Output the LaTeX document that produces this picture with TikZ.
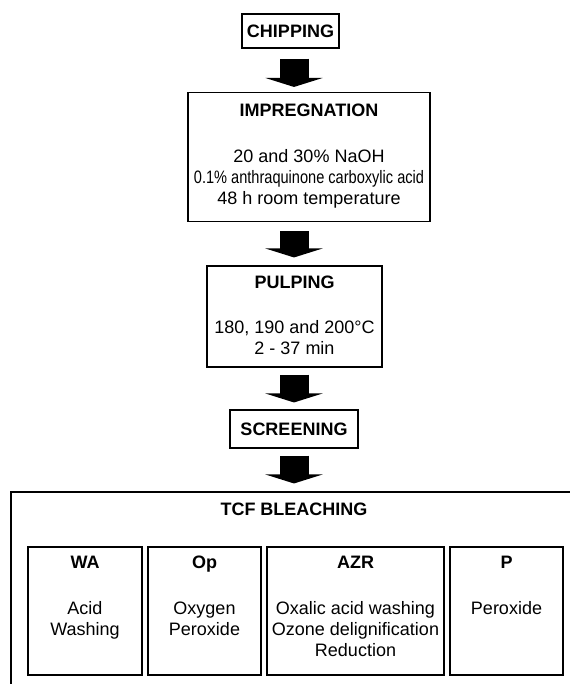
\documentclass[tikz,border=0pt]{standalone}
\usepackage{fontspec}
\setmainfont{Liberation Sans}
\usepackage{graphicx}
\usetikzlibrary{arrows.meta,calc}

\newcommand{\stagefont}{\fontsize{13.5}{15.75}\selectfont}

\tikzset{
  stagebox/.style={draw, line width=0.8pt, inner sep=0pt},
  headtext/.style={font=\stagefont\bfseries, anchor=base, inner sep=0pt},
  bodytext/.style={font=\stagefont, align=center, anchor=north, inner sep=0pt},
  fatarrow/.style={line width=21.75pt, -{Triangle[width=42.75pt,length=6.75pt]}},
}

\begin{document}
\begin{tikzpicture}[x=0.75pt,y=0.75pt,yscale=-1,xscale=1]
\useasboundingbox (0,0) rectangle (570,684);
\coordinate (axis) at (294,0);

%Shape: Rectangle [chipping]
\node [stagebox, font=\stagefont\bfseries, minimum width=72.75pt, minimum height=25.5pt] (chip) at (290.5,31) {CHIPPING};

%Shape: Rectangle [impregnation]
\node [stagebox, minimum width=181.5pt, minimum height=96.75pt] (impreg) at (309,157) {};
% Text Node
\node [headtext] (impreghd) at ($(impreg.north)+(0,25)$) {IMPREGNATION};
% Text Node
\node [bodytext] (impregtxt) at ($(impreg.north)+(0,57)$) {20 and 30\% NaOH\\\scalebox{0.81}[1]{0.1\% anthraquinone carboxylic acid}\\48 h room temperature};

%Shape: Rectangle [pulping]
\node [stagebox, minimum width=131.25pt, minimum height=75.75pt] (pulp) at (294.5,316.5) {};
% Text Node
\node [headtext] (pulphd) at ($(pulp.north)+(0,23.5)$) {PULPING};
% Text Node
\node [bodytext] (pulptxt) at ($(pulp.north)+(0,55)$) {180, 190 and 200°C\\2 - 37 min};

%Shape: Rectangle [screening]
\node [stagebox, font=\stagefont\bfseries, minimum width=96pt, minimum height=28.5pt] (screen) at (294,429) {SCREENING};

%Shape: Rectangle [tcf bleaching, runs off the page]
\node [stagebox, minimum width=441.75pt, minimum height=171pt] (tcf) at (305.5,606) {};
% Text Node
\node [headtext] (tcfhd) at ($(axis |- tcf.north)+(0,24.5)$) {TCF BLEACHING};

%Shape: Rectangle [WA]
\node [stagebox, minimum width=85.5pt, minimum height=96pt] (wa) at (85,611) {};
\node [headtext] (wahd) at ($(wa.north)+(0,22.5)$) {WA};
\node [bodytext] (watxt) at ($(wa.north)+(0,55)$) {Acid\\Washing};

%Shape: Rectangle [Op]
\node [stagebox, minimum width=84.75pt, minimum height=96pt] (op) at (204.5,611) {};
\node [headtext] (ophd) at ($(op.north)+(0,22.5)$) {Op};
\node [bodytext] (optxt) at ($(op.north)+(0,55)$) {Oxygen\\Peroxide};

%Shape: Rectangle [AZR]
\node [stagebox, minimum width=132.75pt, minimum height=96pt] (azr) at (355.5,611) {};
\node [headtext] (azrhd) at ($(azr.north)+(0,22.5)$) {AZR};
\node [bodytext] (azrtxt) at ($(azr.north)+(0,55)$) {Oxalic acid washing\\Ozone delignification\\Reduction};

%Shape: Rectangle [P]
\node [stagebox, minimum width=84.75pt, minimum height=96pt] (perox) at (506.5,611) {};
\node [headtext] (peroxhd) at ($(perox.north)+(0,22.5)$) {P};
\node [bodytext] (peroxtxt) at ($(perox.north)+(0,55)$) {Peroxide};

%Straight Lines [fat arrows]
\draw [fatarrow] ($(axis |- chip.south)+(0,10)$) -- ($(axis |- impreg.north)+(0,-5)$);
\draw [fatarrow] ($(axis |- impreg.south)+(0,9)$) -- ($(axis |- pulp.north)+(0,-8)$);
\draw [fatarrow] ($(axis |- pulp.south)+(0,7)$) -- ($(axis |- screen.north)+(0,-7)$);
\draw [fatarrow] ($(axis |- screen.south)+(0,7)$) -- ($(axis |- tcf.north)+(0,-8)$);

\end{tikzpicture}
\end{document}
